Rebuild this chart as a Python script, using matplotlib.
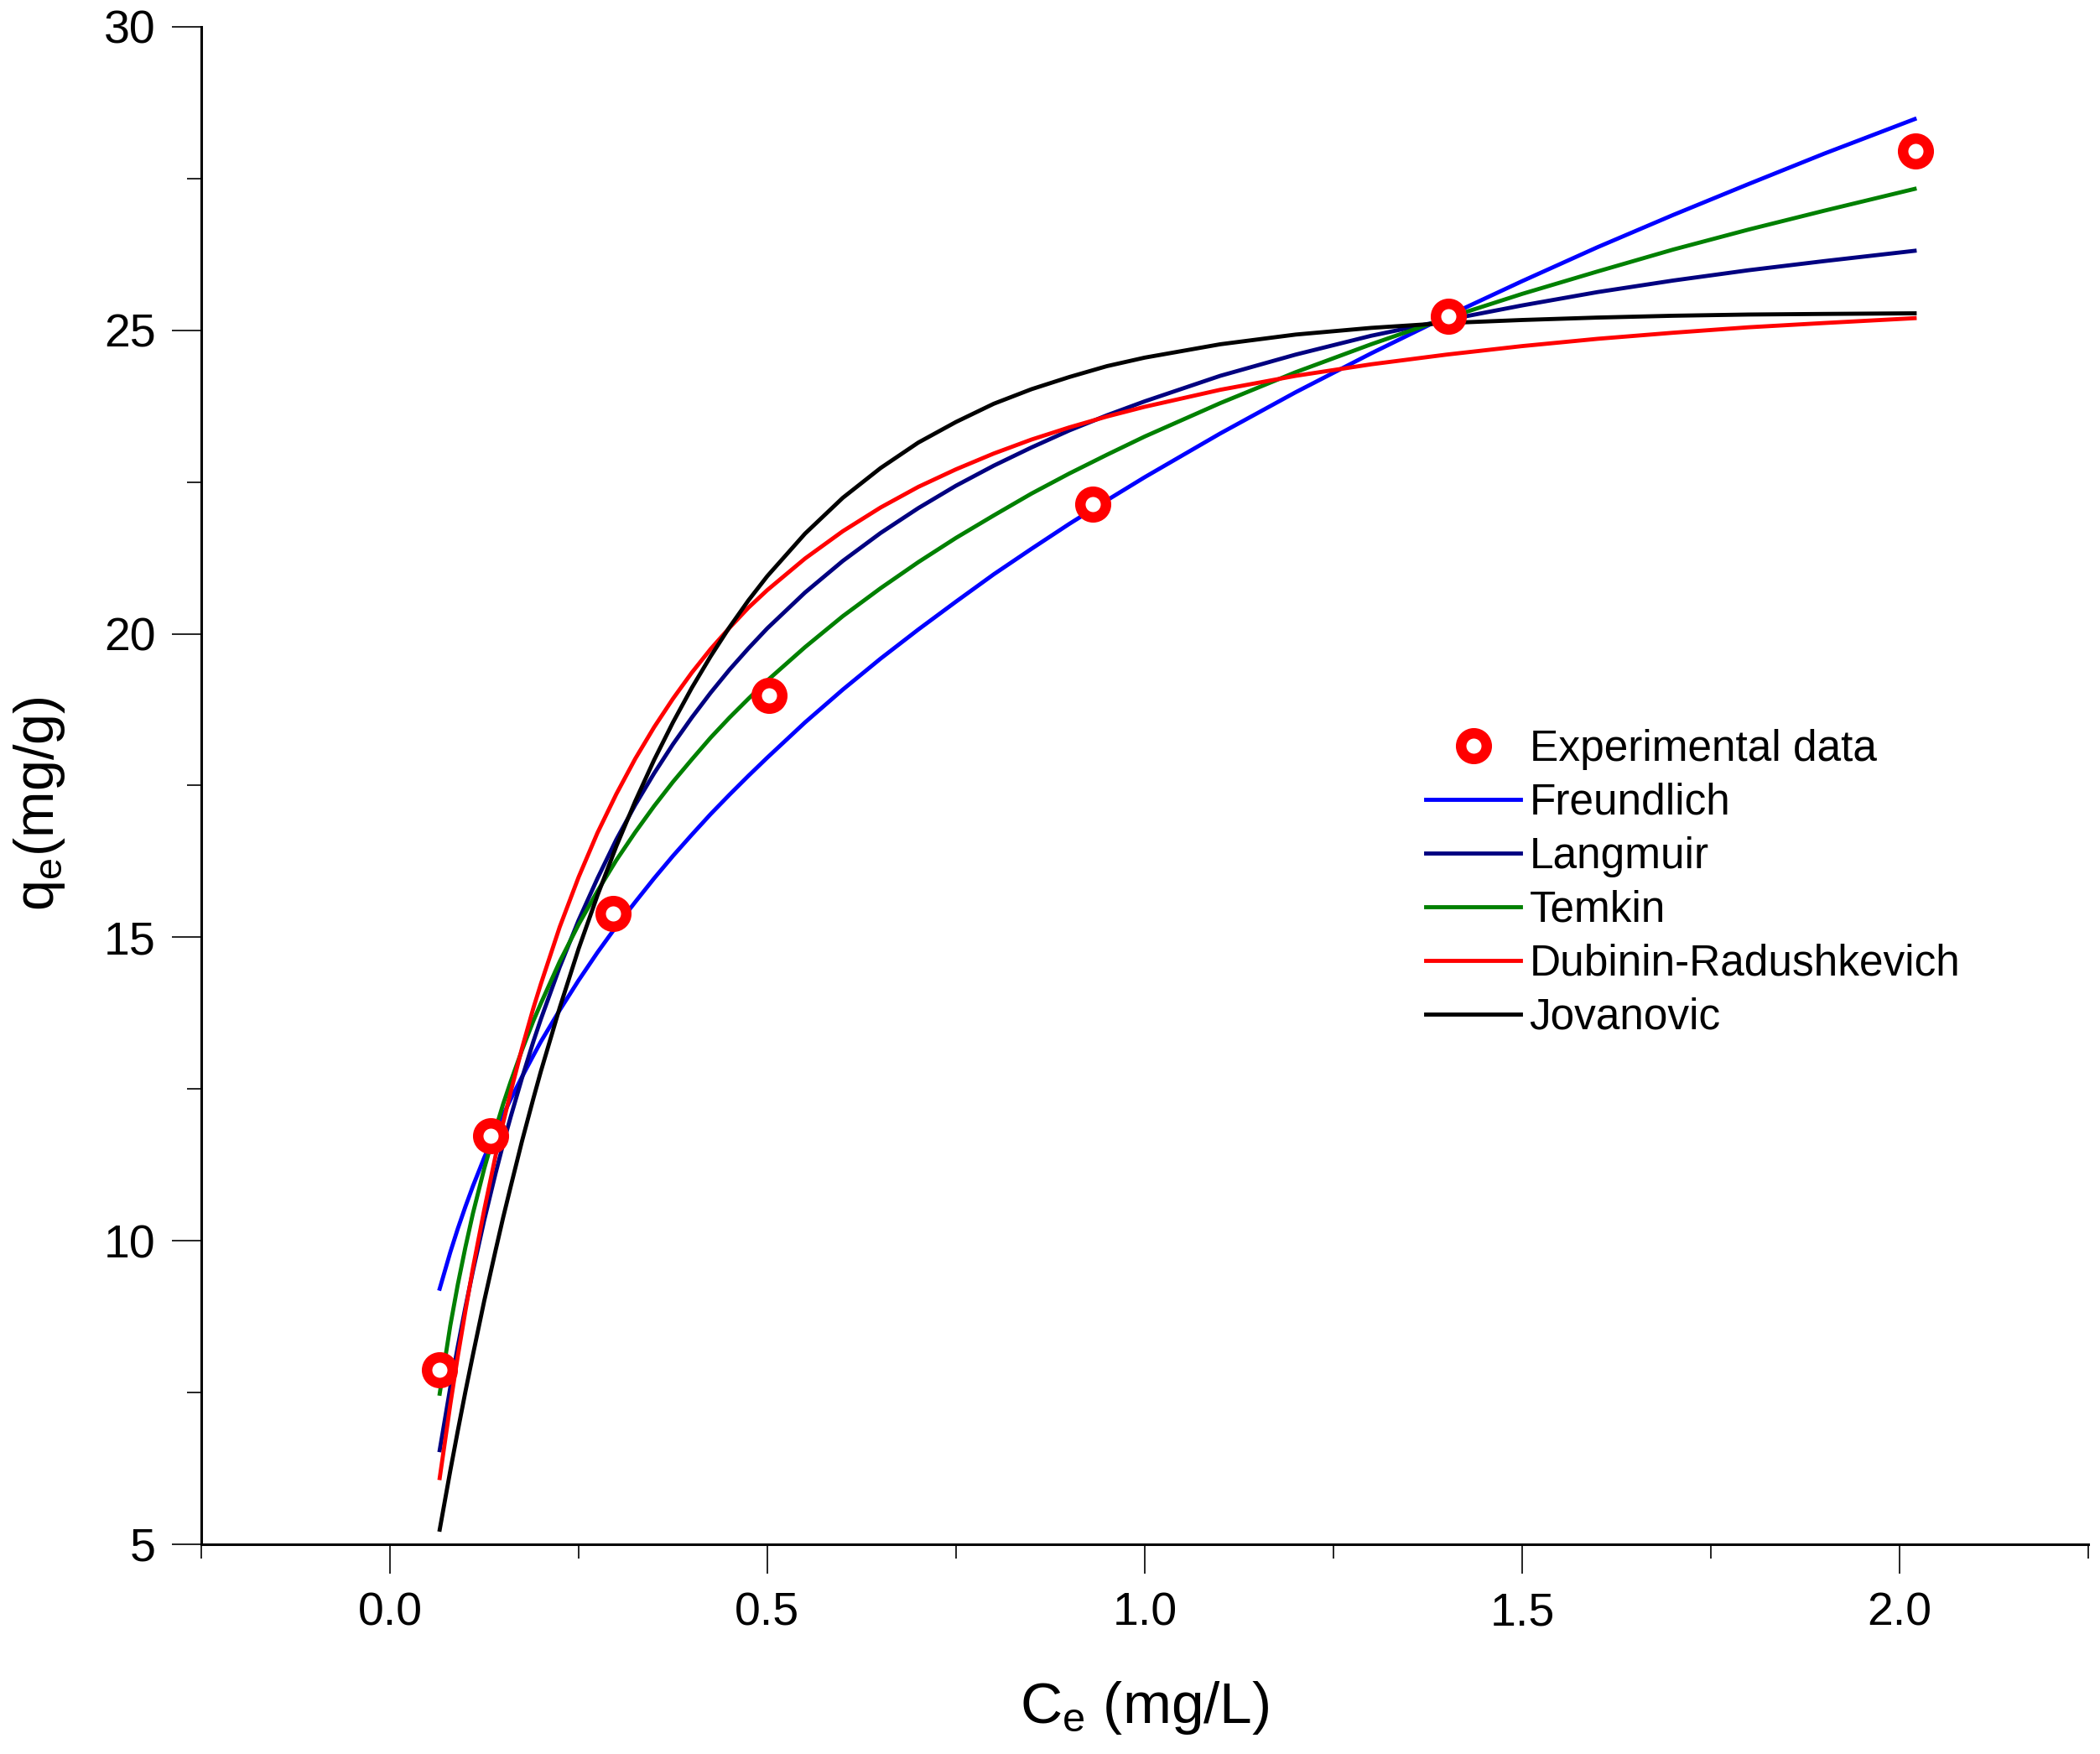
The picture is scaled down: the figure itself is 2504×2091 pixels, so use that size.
import matplotlib
matplotlib.use("Agg")
import matplotlib.pyplot as plt
from matplotlib.ticker import MultipleLocator

plt.rcParams['font.family'] = ['Liberation Sans', 'DejaVu Sans']
plt.rcParams['mathtext.default'] = 'regular'

# experimental points
ce_exp = [0.066, 0.133, 0.296, 0.502, 0.931, 1.402, 2.021]
qe_exp = [7.87, 11.73, 15.39, 18.99, 22.14, 25.23, 27.95]

# fitted curves
ce_fit = [0.066, 0.08, 0.09, 0.1, 0.11, 0.125, 0.14, 0.15, 0.16, 0.175, 0.19, 0.2,
          0.225, 0.25, 0.275, 0.3, 0.325, 0.35, 0.375, 0.4, 0.425, 0.45, 0.475, 0.5,
          0.55, 0.6, 0.65, 0.7, 0.75, 0.8, 0.85, 0.9, 0.95, 1.0,
          1.1, 1.2, 1.3, 1.4, 1.5, 1.6, 1.7, 1.8, 1.9, 2.02]
freundlich = [9.21, 9.81, 10.20, 10.56, 10.90, 11.37, 11.80, 12.07, 12.33, 12.70, 13.05, 13.28,
              13.80, 14.29, 14.75, 15.18, 15.58, 15.97, 16.34, 16.69, 17.03, 17.35, 17.66, 17.96,
              18.54, 19.08, 19.59, 20.07, 20.53, 20.98, 21.40, 21.81, 22.20, 22.58,
              23.30, 23.98, 24.62, 25.23, 25.81, 26.37, 26.90, 27.41, 27.91, 28.48]
langmuir = [6.55, 7.58, 8.26, 8.90, 9.50, 10.34, 11.11, 11.59, 12.04, 12.68, 13.28, 13.65,
            14.51, 15.28, 15.97, 16.61, 17.18, 17.70, 18.18, 18.62, 19.03, 19.41, 19.76, 20.09,
            20.68, 21.20, 21.66, 22.07, 22.44, 22.77, 23.07, 23.35, 23.60, 23.83,
            24.25, 24.60, 24.91, 25.17, 25.41, 25.63, 25.82, 25.99, 26.14, 26.31]
temkin = [7.48, 8.60, 9.28, 9.89, 10.45, 11.19, 11.84, 12.25, 12.62, 13.14, 13.62, 13.91,
          14.60, 15.21, 15.76, 16.27, 16.73, 17.16, 17.56, 17.93, 18.29, 18.62, 18.93, 19.23,
          19.78, 20.29, 20.75, 21.18, 21.58, 21.95, 22.31, 22.64, 22.95, 23.25,
          23.80, 24.31, 24.77, 25.20, 25.60, 25.97, 26.33, 26.66, 26.97, 27.33]
dubinin = [6.09, 7.30, 8.10, 8.84, 9.55, 10.51, 11.40, 11.94, 12.45, 13.17, 13.83, 14.23,
           15.17, 15.99, 16.72, 17.36, 17.94, 18.46, 18.93, 19.36, 19.75, 20.10, 20.43, 20.72,
           21.24, 21.69, 22.08, 22.42, 22.71, 22.97, 23.20, 23.40, 23.58, 23.74,
           24.02, 24.25, 24.44, 24.60, 24.74, 24.86, 24.96, 25.05, 25.12, 25.20]
jovanovic = [5.24, 6.21, 6.87, 7.51, 8.12, 9.01, 9.84, 10.38, 10.89, 11.64, 12.34, 12.79,
             13.84, 14.81, 15.69, 16.50, 17.24, 17.92, 18.54, 19.11, 19.63, 20.11, 20.55, 20.95,
             21.65, 22.24, 22.73, 23.15, 23.49, 23.79, 24.03, 24.23, 24.41, 24.55,
             24.77, 24.93, 25.04, 25.12, 25.17, 25.21, 25.24, 25.26, 25.27, 25.28]

fig = plt.figure(figsize=(25.04, 20.91), dpi=100)
ax = fig.add_axes([0.0958, 0.1196, 0.8986, 0.8651])

lw = 3.5
ax.plot(ce_exp, qe_exp, 'o', color='red', markerfacecolor='white',
        markersize=22, markeredgewidth=9, label='Experimental data', zorder=5)
ax.plot(ce_fit, freundlich, color='#0000FF', lw=lw, label='Freundlich', solid_joinstyle='round')
ax.plot(ce_fit, langmuir, color='#000080', lw=lw, label='Langmuir', solid_joinstyle='round')
ax.plot(ce_fit, temkin, color='#008000', lw=lw, label='Temkin', solid_joinstyle='round')
ax.plot(ce_fit, dubinin, color='#FF0000', lw=lw, label='Dubinin-Radushkevich', solid_joinstyle='round')
ax.plot(ce_fit, jovanovic, color='black', lw=lw, label='Jovanovic', solid_joinstyle='round')

ax.set_xlim(-0.25, 2.25)
ax.set_ylim(5, 30)
ax.xaxis.set_major_locator(MultipleLocator(0.5))
ax.xaxis.set_minor_locator(MultipleLocator(0.25))
ax.yaxis.set_major_locator(MultipleLocator(5))
ax.yaxis.set_minor_locator(MultipleLocator(2.5))
ax.xaxis.set_major_formatter(matplotlib.ticker.FormatStrFormatter('%.1f'))

for s in ['top', 'right']:
    ax.spines[s].set_visible(False)
for s in ['left', 'bottom']:
    ax.spines[s].set_linewidth(2.2)

ax.tick_params(which='major', direction='out', length=25, width=1.2,
               labelsize=40)
ax.tick_params(which='minor', direction='out', length=12, width=1.2)
ax.tick_params(axis='x', which='major', pad=16)
ax.tick_params(axis='y', which='major', pad=14)

ax.set_xlabel('C$_e$ (mg/L)', fontsize=50)
ax.set_ylabel('q$_e$(mg/g)', fontsize=48)
ax.xaxis.set_label_coords(0.5, -0.089)
ax.yaxis.set_label_coords(-0.071, 0.488)

ax.legend(loc='upper left', bbox_to_anchor=(0.679, 0.5844),
          bbox_transform=fig.transFigure, frameon=False, fontsize=37,
          handlelength=2.2, handletextpad=0.2, labelspacing=0.29,
          borderpad=0, borderaxespad=0, numpoints=1)

fig.savefig('out.png', dpi=100)
